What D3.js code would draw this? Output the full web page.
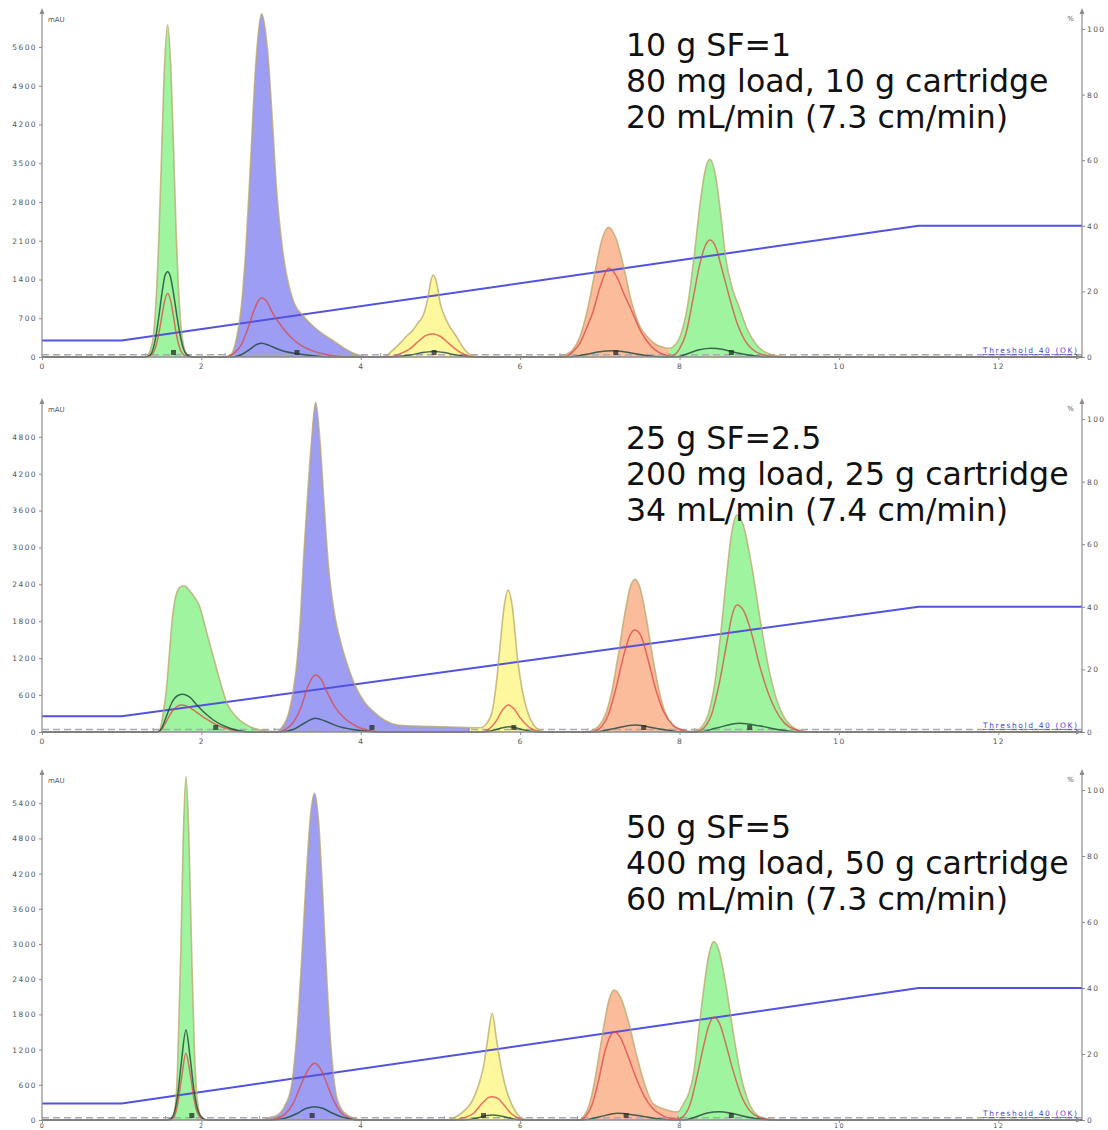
<!DOCTYPE html>
<html>
<head>
<meta charset="utf-8">
<script src="https://cdn.jsdelivr.net/npm/d3@7/dist/d3.min.js"></script>
<style>
  body { margin: 0; background: #ffffff; }
  svg { display: block; }
</style>
</head>
<body>
<div id="chart"></div>
<script>
const width = 1108, height = 1130;

// shared x axis (min) and right axis (%B)
const timeTicks = [0, 2, 4, 6, 8, 10, 12];
const gradientTicks = [0, 20, 40, 60, 80, 100];
const timeMax = 13.05;

// solvent gradient, identical for the three runs
const gradient = [[0, 5], [1, 5], [11, 40], [13.05, 40]];
const threshold = 40;
const thresholdLabel = "Threshold 40 (OK)";

// ---- run 1 : 10 g
const titles1 = ["10 g SF=1", "80 mg load, 10 g cartridge", "20 mL/min (7.3 cm/min)"];
const mauTicks1 = [0, 700, 1400, 2100, 2800, 3500, 4200, 4900, 5600];
const main1 = [
  [0, 0], [1.30, 0], [1.38, 230], [1.43, 990], [1.47, 2300], [1.50, 3640], [1.53, 5000], [1.576, 6000], [1.62, 5100], [1.65, 3800], [1.68, 2400], [1.72, 1050], [1.76, 340], [1.82, 40], [1.90, 0],
  [2.30, 0], [2.36, 20], [2.43, 270], [2.50, 900], [2.56, 2000], [2.62, 3600], [2.68, 5240], [2.755, 6200], [2.83, 5550], [2.90, 4050], [2.94, 3100], [3.02, 1930], [3.15, 1030], [3.28, 740], [3.41, 547], [3.52, 420], [3.64, 307], [3.78, 170], [3.91, 67], [4.05, 12], [4.20, 0],
  [4.28, 0], [4.40, 120], [4.50, 260], [4.57, 370], [4.65, 480], [4.72, 620], [4.78, 740], [4.84, 1050], [4.88, 1380], [4.91, 1481], [4.95, 1350], [5.00, 950], [5.05, 740], [5.12, 540], [5.20, 370], [5.30, 140], [5.40, 20], [5.50, 0],
  [6.45, 0], [6.54, 26], [6.65, 115], [6.75, 365], [6.85, 890], [6.95, 1620], [7.03, 2140], [7.11, 2343], [7.20, 2150], [7.30, 1620], [7.40, 980], [7.50, 560], [7.60, 360], [7.70, 230], [7.80, 170], [7.87, 157],
  [7.95, 225], [8.03, 470], [8.10, 920], [8.18, 1785], [8.26, 2790], [8.32, 3360], [8.38, 3571], [8.45, 3290], [8.52, 2540], [8.58, 1785], [8.66, 1250], [8.75, 893], [8.85, 500], [8.95, 250], [9.05, 110], [9.15, 45], [9.30, 10], [9.40, 0], [13.05, 0]
];
const red1 = [
  [0, 0], [1.30, 0], [1.38, 50], [1.43, 200], [1.47, 450], [1.50, 700], [1.53, 950], [1.576, 1150], [1.62, 980], [1.65, 730], [1.68, 460], [1.72, 200], [1.76, 65], [1.82, 8], [1.90, 0],
  [2.30, 0], [2.40, 60], [2.50, 220], [2.58, 500], [2.65, 800], [2.72, 1030], [2.755, 1071], [2.82, 1000], [2.90, 780], [3.01, 547], [3.12, 360], [3.25, 210], [3.40, 110], [3.55, 50], [3.77, 5], [3.90, 0],
  [4.35, 0], [4.50, 60], [4.62, 150], [4.72, 280], [4.82, 390], [4.91, 415], [5.00, 370], [5.10, 250], [5.20, 130], [5.30, 45], [5.42, 0],
  [6.55, 0], [6.65, 80], [6.75, 250], [6.85, 580], [6.91, 800], [7.00, 1250], [7.11, 1602], [7.20, 1480], [7.30, 1150], [7.41, 800], [7.50, 500], [7.60, 270], [7.70, 120], [7.80, 45], [7.90, 15],
  [8.00, 150], [8.08, 420], [8.17, 1056], [8.25, 1650], [8.32, 2000], [8.38, 2113], [8.45, 2000], [8.53, 1600], [8.63, 1056], [8.72, 620], [8.82, 300], [8.92, 130], [9.05, 40], [9.20, 5], [9.30, 0], [13.05, 0]
];
const dark1 = [
  [0, 0], [1.30, 0], [1.36, 40], [1.42, 300], [1.47, 770], [1.51, 1200], [1.545, 1480], [1.576, 1541], [1.61, 1460], [1.65, 1150], [1.69, 770], [1.73, 420], [1.77, 170], [1.82, 40], [1.90, 0],
  [2.40, 0], [2.50, 40], [2.60, 130], [2.70, 230], [2.755, 247], [2.85, 210], [2.95, 150], [3.05, 100], [3.20, 60], [3.35, 30], [3.50, 8], [3.60, 0],
  [4.40, 0], [4.60, 30], [4.80, 85], [4.91, 100], [5.05, 80], [5.20, 35], [5.40, 0],
  [6.60, 0], [6.80, 40], [7.00, 95], [7.15, 114], [7.30, 95], [7.50, 45], [7.70, 10], [7.85, 0],
  [7.95, 0], [8.10, 60], [8.25, 130], [8.40, 157], [8.55, 135], [8.70, 80], [8.90, 25], [9.10, 0], [13.05, 0]
];
const fractions1 = [[1.30, 1.95, "green"], [2.30, 4.15, "blue"], [4.25, 5.45, "yellow"], [6.50, 7.87, "orange"], [7.87, 9.35, "green"]];
const markers1 = [1.65, 3.20, 4.92, 7.20, 8.65];

// ---- run 2 : 25 g
const titles2 = ["25 g SF=2.5", "200 mg load, 25 g cartridge", "34 mL/min (7.4 cm/min)"];
const mauTicks2 = [0, 600, 1200, 1800, 2400, 3000, 3600, 4200, 4800];
const main2 = [
  [0, 0], [1.40, 0], [1.47, 20], [1.52, 300], [1.56, 683], [1.60, 1300], [1.63, 1772], [1.69, 2260], [1.75, 2370], [1.79, 2374], [1.85, 2300], [1.92, 2180], [1.98, 2037], [2.06, 1650], [2.15, 1224], [2.24, 800], [2.32, 470], [2.45, 230], [2.61, 86], [2.75, 30], [2.90, 5], [2.95, 0],
  [3.00, 60], [3.10, 330], [3.15, 650], [3.20, 1143], [3.24, 1800], [3.28, 2770], [3.33, 3800], [3.38, 4700], [3.434, 5361], [3.49, 4700], [3.54, 3700], [3.59, 2770], [3.66, 2000], [3.74, 1500], [3.82, 1143], [3.95, 700], [4.05, 480], [4.16, 330], [4.30, 190], [4.46, 114], [4.70, 95], [5.00, 85], [5.20, 78], [5.40, 70],
  [5.50, 70], [5.58, 140], [5.65, 340], [5.70, 780], [5.75, 1430], [5.80, 2050], [5.85, 2309], [5.90, 2050], [5.97, 1155], [6.03, 650], [6.10, 300], [6.17, 110], [6.24, 30], [6.32, 0],
  [6.85, 0], [6.89, 20], [6.98, 90], [7.06, 250], [7.14, 600], [7.23, 1241], [7.31, 1900], [7.38, 2350], [7.44, 2483], [7.50, 2360], [7.58, 1870], [7.66, 1241], [7.74, 690], [7.82, 315], [7.92, 100], [8.02, 30], [8.12, 10], [8.20, 20],
  [8.28, 85], [8.36, 290], [8.44, 780], [8.53, 1764], [8.60, 2660], [8.66, 3290], [8.72, 3528], [8.80, 3360], [8.90, 2740], [9.02, 1764], [9.12, 1030], [9.22, 515], [9.32, 220], [9.42, 80], [9.55, 15], [9.65, 0], [13.05, 0]
];
const red2 = [
  [0, 0], [1.45, 0], [1.50, 40], [1.56, 170], [1.63, 330], [1.70, 420], [1.75, 439], [1.82, 420], [1.92, 340], [2.05, 220], [2.20, 110], [2.35, 45], [2.50, 10], [2.60, 0],
  [2.95, 0], [3.05, 40], [3.15, 150], [3.25, 400], [3.33, 720], [3.43, 927], [3.50, 860], [3.58, 640], [3.68, 400], [3.80, 220], [3.95, 90], [4.10, 25], [4.30, 0],
  [5.50, 0], [5.60, 40], [5.70, 180], [5.78, 360], [5.85, 439], [5.92, 380], [6.00, 230], [6.10, 90], [6.20, 20], [6.30, 0],
  [6.90, 0], [7.00, 60], [7.10, 260], [7.20, 700], [7.30, 1250], [7.38, 1580], [7.44, 1659], [7.52, 1550], [7.60, 1200], [7.70, 700], [7.80, 330], [7.92, 110], [8.05, 25], [8.18, 0],
  [8.20, 0], [8.30, 60], [8.40, 280], [8.50, 800], [8.60, 1500], [8.66, 1900], [8.72, 2065], [8.80, 1980], [8.90, 1620], [9.00, 1100], [9.10, 680], [9.20, 370], [9.32, 140], [9.45, 40], [9.60, 0], [13.05, 0]
];
const dark2 = [
  [0, 0], [1.45, 0], [1.50, 60], [1.56, 250], [1.63, 480], [1.70, 590], [1.77, 613], [1.85, 570], [1.95, 430], [2.05, 300], [2.15, 195], [2.30, 90], [2.45, 30], [2.60, 0],
  [3.00, 0], [3.15, 40], [3.30, 150], [3.43, 222], [3.55, 180], [3.70, 100], [3.90, 40], [4.10, 10], [4.30, 0],
  [5.55, 0], [5.70, 40], [5.85, 86], [6.00, 50], [6.15, 10], [6.30, 0],
  [6.95, 0], [7.15, 50], [7.45, 114], [7.70, 60], [7.95, 10], [8.10, 0],
  [8.25, 0], [8.45, 60], [8.75, 141], [9.00, 100], [9.25, 35], [9.50, 0], [13.05, 0]
];
const fractions2 = [[1.40, 2.92, "green"], [2.92, 5.36, "blue"], [5.36, 6.32, "yellow"], [6.85, 8.19, "orange"], [8.19, 9.65, "green"]];
const markers2 = [2.18, 4.14, 5.92, 7.55, 8.88];

// ---- run 3 : 50 g
const titles3 = ["50 g SF=5", "400 mg load, 50 g cartridge", "60 mL/min (7.3 cm/min)"];
const mauTicks3 = [0, 600, 1200, 1800, 2400, 3000, 3600, 4200, 4800, 5400];
const main3 = [
  [0, 0], [1.55, 0], [1.62, 20], [1.66, 130], [1.70, 855], [1.743, 2926], [1.77, 4680], [1.806, 5853], [1.84, 4980], [1.877, 2926], [1.91, 1300], [1.95, 330], [2.00, 35], [2.08, 0],
  [2.75, 0], [2.85, 40], [2.95, 80], [3.05, 250], [3.13, 580], [3.20, 1500], [3.26, 2785], [3.32, 4240], [3.37, 5200], [3.42, 5570], [3.47, 5100], [3.52, 3920], [3.56, 2785], [3.62, 1350], [3.68, 520], [3.75, 200], [3.85, 70], [3.96, 10], [4.05, 0],
  [5.08, 0], [5.20, 60], [5.30, 160], [5.40, 330], [5.48, 600], [5.54, 910], [5.59, 1350], [5.65, 1819], [5.70, 1400], [5.76, 910], [5.83, 500], [5.90, 250], [5.97, 90], [6.05, 15], [6.12, 0],
  [6.74, 0], [6.80, 70], [6.86, 230], [6.92, 560], [6.99, 1108], [7.05, 1600], [7.12, 2070], [7.18, 2216], [7.26, 2090], [7.35, 1720], [7.46, 1108], [7.56, 620], [7.66, 290], [7.78, 200], [7.90, 150], [7.98, 140],
  [8.05, 280], [8.12, 470], [8.18, 820], [8.24, 1520], [8.31, 2300], [8.37, 2830], [8.43, 3040], [8.50, 2860], [8.58, 2310], [8.67, 1520], [8.77, 755], [8.87, 295], [8.98, 80], [9.10, 20], [9.19, 5], [9.28, 0], [13.05, 0]
];
const red3 = [
  [0, 0], [1.58, 0], [1.65, 40], [1.70, 250], [1.75, 700], [1.806, 1137], [1.86, 780], [1.91, 340], [1.96, 90], [2.02, 15], [2.08, 0],
  [2.85, 0], [2.95, 30], [3.05, 100], [3.15, 280], [3.25, 600], [3.35, 880], [3.42, 966], [3.50, 860], [3.58, 600], [3.66, 330], [3.75, 130], [3.85, 35], [3.95, 0],
  [5.15, 0], [5.30, 40], [5.42, 120], [5.52, 280], [5.60, 380], [5.65, 398], [5.72, 370], [5.80, 250], [5.88, 120], [5.97, 35], [6.06, 0],
  [6.75, 0], [6.82, 60], [6.90, 250], [6.98, 650], [7.06, 1150], [7.13, 1430], [7.18, 1506], [7.26, 1400], [7.35, 1100], [7.46, 700], [7.56, 400], [7.66, 200], [7.78, 80], [7.90, 25], [7.98, 15],
  [8.06, 80], [8.14, 300], [8.22, 750], [8.30, 1250], [8.37, 1620], [8.43, 1750], [8.50, 1650], [8.58, 1300], [8.67, 850], [8.77, 430], [8.88, 160], [9.00, 45], [9.12, 8], [9.22, 0], [13.05, 0]
];
const dark3 = [
  [0, 0], [1.58, 0], [1.64, 60], [1.70, 400], [1.75, 1000], [1.806, 1534], [1.86, 1050], [1.91, 480], [1.96, 150], [2.02, 30], [2.08, 0],
  [2.90, 0], [3.05, 30], [3.20, 110], [3.32, 200], [3.42, 227], [3.52, 200], [3.64, 120], [3.78, 45], [3.92, 5], [4.00, 0],
  [5.30, 0], [5.45, 30], [5.58, 75], [5.65, 85], [5.75, 70], [5.88, 30], [6.00, 0],
  [6.80, 0], [7.00, 55], [7.22, 114], [7.45, 80], [7.70, 25], [7.90, 0],
  [8.05, 0], [8.20, 50], [8.35, 120], [8.50, 140], [8.65, 115], [8.85, 50], [9.05, 10], [9.20, 0], [13.05, 0]
];
const fractions3 = [[1.55, 2.10, "green"], [2.73, 3.98, "blue"], [5.05, 6.10, "yellow"], [6.72, 7.98, "orange"], [7.98, 9.25, "green"]];
const markers3 = [1.88, 3.39, 5.54, 7.33, 8.65];

// ---- layout and styles
const plotLeft = 42, plotRight = 1082;
const layout = [
  { top: 29, bottom: 357, mauMax: 5925, titleY: 56, xPad: 4, xFont: 7.5 },
  { top: 419, bottom: 732, mauMax: 5089, titleY: 449, xPad: 4, xFont: 7.5 },
  { top: 790, bottom: 1120, mauMax: 5625, titleY: 838, xPad: 0, xFont: 6.5 },
];
const fills = { green: "#9ff59f", blue: "#9d9df4", yellow: "#fdf89d", orange: "#fbbc9c" };
const colors = {
  axis: "#8c8c8c",
  tickText: "#555555",
  mainLine: "rgba(185,165,105,0.75)",
  redLine: "rgba(222,70,70,0.75)",
  darkLine: "rgba(25,70,55,0.8)",
  gradient: "#5252e0",
  threshold: "#a8a8b8",
  title: "#111111",
};
const tickFont = "DejaVu Sans";
const titleFont = "DejaVu Sans";
const titleFontSize = 31.6;
const titleLineHeight = 36;

const runs = [
  { titles: titles1, ticks: mauTicks1, main: main1, red: red1, dark: dark1, fractions: fractions1, markers: markers1 },
  { titles: titles2, ticks: mauTicks2, main: main2, red: red2, dark: dark2, fractions: fractions2, markers: markers2 },
  { titles: titles3, ticks: mauTicks3, main: main3, red: red3, dark: dark3, fractions: fractions3, markers: markers3 },
];

const svg = d3.select("#chart")
  .append("svg")
  .attr("width", width)
  .attr("height", height);

const x = d3.scaleLinear().domain([0, timeMax]).range([plotLeft, plotRight]);

function drawArrow(g, px, py, dir) {
  // small filled arrow head, dir "up" or "right"
  const pts = dir === "up"
    ? [[px, py - 5], [px - 2.5, py + 1], [px + 2.5, py + 1]]
    : [[px + 5, py], [px - 1, py - 2.5], [px - 1, py + 2.5]];
  g.append("path")
    .attr("d", d3.line()(pts) + "Z")
    .attr("fill", colors.axis);
}

function styleAxis(axisG, fontSize) {
  axisG.select(".domain").remove();
  axisG.selectAll(".tick line").attr("stroke", colors.axis);
  axisG.selectAll(".tick text")
    .attr("fill", colors.tickText)
    .attr("font-family", tickFont)
    .attr("font-size", fontSize)
    .attr("letter-spacing", 1.4);
}

function drawRun(run, lay, idx) {
  const g = svg.append("g").attr("class", "run");
  const y = d3.scaleLinear().domain([0, lay.mauMax]).range([lay.bottom, lay.top]);
  const yPct = d3.scaleLinear().domain([0, 100]).range([lay.bottom, lay.top]);

  const area = d3.area()
    .x((d) => x(d[0]))
    .y0(y(0))
    .y1((d) => y(d[1]))
    .curve(d3.curveMonotoneX);
  const line = d3.line()
    .x((d) => x(d[0]))
    .y((d) => y(d[1]))
    .curve(d3.curveMonotoneX);

  // collected fractions: main trace filled inside each window
  const defs = g.append("defs");
  run.fractions.forEach((f, i) => {
    defs.append("clipPath")
      .attr("id", `frac-${idx}-${i}`)
      .append("rect")
      .attr("x", x(f[0]))
      .attr("width", x(f[1]) - x(f[0]))
      .attr("y", lay.top - 40)
      .attr("height", lay.bottom - lay.top + 40);
  });
  g.selectAll("path.fraction")
    .data(run.fractions)
    .join("path")
    .attr("class", "fraction")
    .attr("clip-path", (d, i) => `url(#frac-${idx}-${i})`)
    .attr("d", area(run.main))
    .attr("fill", (d) => fills[d[2]]);

  // fraction boundaries
  g.selectAll("line.frac-edge")
    .data(run.fractions)
    .join("line")
    .attr("class", "frac-edge")
    .attr("x1", (d) => x(d[0]))
    .attr("x2", (d) => x(d[0]))
    .attr("y1", y(0))
    .attr("y2", y(0) - 4)
    .attr("stroke", "rgba(60,60,60,0.5)")
    .attr("stroke-width", 1);

  // threshold
  g.append("line")
    .attr("x1", plotLeft)
    .attr("x2", plotRight)
    .attr("y1", y(threshold))
    .attr("y2", y(threshold))
    .attr("stroke", colors.threshold)
    .attr("stroke-width", 1.5)
    .attr("stroke-dasharray", "7,4");

  // gradient
  g.append("path")
    .attr("d", d3.line().x((d) => x(d[0])).y((d) => yPct(d[1]))(gradient))
    .attr("fill", "none")
    .attr("stroke", colors.gradient)
    .attr("stroke-width", 2);

  // traces
  g.append("path").attr("d", line(run.main))
    .attr("fill", "none").attr("stroke", colors.mainLine).attr("stroke-width", 1.6);
  g.append("path").attr("d", line(run.red))
    .attr("fill", "none").attr("stroke", colors.redLine).attr("stroke-width", 1.5);
  g.append("path").attr("d", line(run.dark))
    .attr("fill", "none").attr("stroke", colors.darkLine).attr("stroke-width", 1.5);

  // fraction tube markers
  g.selectAll("rect.marker")
    .data(run.markers)
    .join("rect")
    .attr("class", "marker")
    .attr("x", (d) => x(d) - 2.5)
    .attr("y", y(0) - 7)
    .attr("width", 5)
    .attr("height", 5)
    .attr("fill", "rgba(40,40,40,0.75)");

  // axes
  const bottomAxis = g.append("g")
    .attr("transform", `translate(0,${lay.bottom})`)
    .call(d3.axisBottom(x).tickValues(timeTicks).tickSize(3).tickSizeOuter(0).tickPadding(lay.xPad));
  styleAxis(bottomAxis, lay.xFont);

  const leftAxis = g.append("g")
    .attr("transform", `translate(${plotLeft},0)`)
    .call(d3.axisLeft(y).tickValues(run.ticks).tickFormat(d3.format("d")).tickSize(3).tickSizeOuter(0).tickPadding(2));
  styleAxis(leftAxis, 7.5);

  const rightAxis = g.append("g")
    .attr("transform", `translate(${plotRight},0)`)
    .call(d3.axisRight(yPct).tickValues(gradientTicks).tickSize(3).tickSizeOuter(0).tickPadding(2));
  styleAxis(rightAxis, 7.5);

  const arrowTop = lay.top - 16;
  g.append("line")
    .attr("x1", plotLeft).attr("x2", plotLeft)
    .attr("y1", lay.bottom).attr("y2", arrowTop)
    .attr("stroke", colors.axis).attr("stroke-width", 1.2);
  g.append("line")
    .attr("x1", plotRight).attr("x2", plotRight)
    .attr("y1", lay.bottom).attr("y2", arrowTop)
    .attr("stroke", colors.axis).attr("stroke-width", 1.2);
  g.append("line")
    .attr("x1", plotLeft).attr("x2", plotRight - 4)
    .attr("y1", lay.bottom).attr("y2", lay.bottom)
    .attr("stroke", colors.axis).attr("stroke-width", 1.5);
  drawArrow(g, plotLeft, arrowTop, "up");
  drawArrow(g, plotRight, arrowTop, "up");
  drawArrow(g, plotRight - 5, lay.bottom, "right");

  g.append("text")
    .attr("x", plotLeft + 6)
    .attr("y", arrowTop + 9)
    .attr("font-family", tickFont)
    .attr("font-size", 7)
    .attr("fill", colors.tickText)
    .text("mAU");
  g.append("text")
    .attr("x", plotRight - 8)
    .attr("y", arrowTop + 8)
    .attr("text-anchor", "end")
    .attr("font-family", tickFont)
    .attr("font-size", 7)
    .attr("fill", colors.tickText)
    .text("%");

  g.append("text")
    .attr("x", plotRight - 5)
    .attr("y", lay.bottom - 4)
    .attr("text-anchor", "end")
    .attr("font-family", tickFont)
    .attr("font-size", 7.5)
    .attr("textLength", 94)
    .attr("lengthAdjust", "spacing")
    .attr("fill", "#4646d0")
    .attr("text-decoration", "underline")
    .text(thresholdLabel);

  // run description
  g.append("g")
    .selectAll("text")
    .data(run.titles)
    .join("text")
    .attr("x", 626)
    .attr("y", (d, i) => lay.titleY + i * titleLineHeight)
    .attr("font-family", titleFont)
    .attr("font-size", titleFontSize)
    .attr("fill", colors.title)
    .text((d) => d);
}

runs.forEach((run, i) => drawRun(run, layout[i], i));
</script>
</body>
</html>
